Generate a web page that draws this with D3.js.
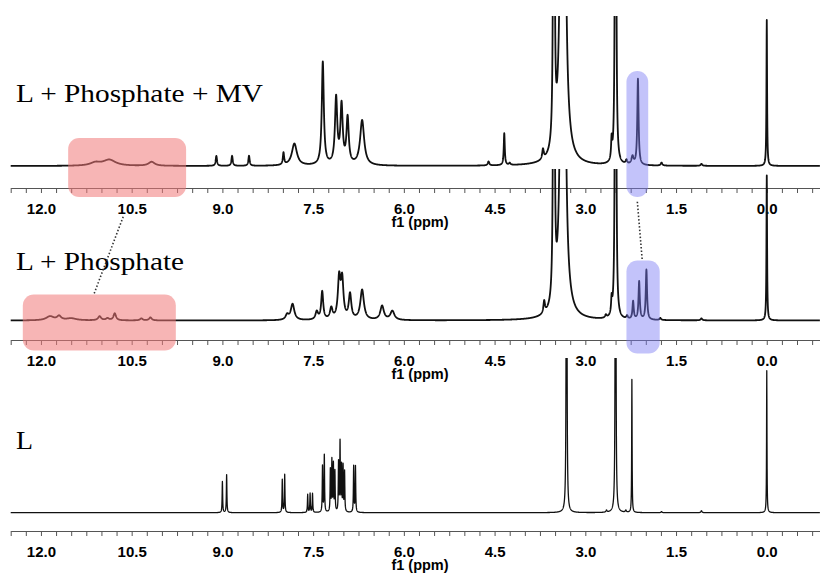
<!DOCTYPE html>
<html>
<head>
<meta charset="utf-8">
<script src="https://cdn.jsdelivr.net/npm/d3@7"></script>
<style>
  body { margin: 0; background: #fff; }
  svg { display: block; }
</style>
</head>
<body>
<div id="chart"></div>
<script>
// spectrum labels (top to bottom)
var spectrumLabels = ["L + Phosphate + MV", "L + Phosphate", "L"];

// peak tables: [ppm, intensity, width (ppm)]
var mvPeaks = [
  [11.10, 3, 0.20], [10.87, 6, 0.25], [10.17, 4, 0.12],
  [9.10, 10, 0.025], [8.84, 10, 0.025], [8.56, 10, 0.025],
  [7.99, 12, 0.025], [7.81, 22, 0.10],
  [7.34, 103, 0.04], [7.12, 66, 0.045], [7.03, 58, 0.045], [6.93, 46, 0.045], [6.69, 45, 0.08],
  [4.60, 4, 0.03], [4.34, 32, 0.02], [4.25, 2, 0.03],
  [3.70, 10, 0.03], [3.52, 1500, 0.012], [3.37, 1300, 0.045],
  [2.565, 20, 0.02], [2.50, 3000, 0.008], [2.32, 4, 0.03],
  [2.22, 8, 0.04], [2.13, 86, 0.025],
  [1.74, 3, 0.03], [1.08, 2, 0.03], [0.0, 146, 0.012]
];

var phosPeaks = [
  [11.85, 4, 0.15], [11.70, 4, 0.08], [11.50, 2, 0.20], [11.03, 4, 0.06], [10.90, 2, 0.06],
  [10.78, 7, 0.05], [10.34, 2, 0.05], [10.19, 3, 0.05],
  [7.93, 5, 0.06], [7.84, 16, 0.07],
  [7.44, 8, 0.05], [7.35, 28, 0.04], [7.20, 11, 0.05], [7.07, 40, 0.05], [7.02, 38, 0.05],
  [6.89, 25, 0.05], [6.69, 30, 0.07], [6.36, 14, 0.07], [6.19, 9, 0.08],
  [3.68, 12, 0.03], [3.52, 1500, 0.012], [3.37, 1200, 0.045],
  [2.66, 3, 0.03], [2.565, 15, 0.02], [2.50, 3000, 0.008], [2.31, 3, 0.03],
  [2.21, 18, 0.025], [2.11, 38, 0.025], [1.99, 50, 0.025],
  [1.76, 2, 0.03], [1.08, 2, 0.03], [0.0, 145, 0.012]
];

var ligandPeaks = [
  [9.00, 31, 0.01], [8.93, 38, 0.01],
  [8.01, 33, 0.01], [7.97, 38, 0.01],
  [7.59, 18, 0.01], [7.55, 19, 0.01], [7.51, 19, 0.01],
  [7.345, 46, 0.01], [7.315, 57, 0.01],
  [7.215, 42, 0.01], [7.19, 51, 0.01], [7.165, 47, 0.01], [7.14, 40, 0.01],
  [7.08, 49, 0.01], [7.055, 69, 0.01], [7.03, 45, 0.01], [7.005, 45, 0.01], [6.98, 40, 0.01],
  [6.83, 46, 0.01], [6.80, 46, 0.01],
  [3.31, 1000, 0.008], [2.65, 2, 0.02], [2.50, 1000, 0.008], [2.33, 2, 0.02],
  [2.23, 133, 0.008], [1.74, 1, 0.02], [1.08, 2, 0.02], [0.0, 142, 0.008]
];

// highlight boxes: [ppm from, ppm to, intensity top, intensity bottom]
var redBoxes = [[11.55, 9.60, 28, -31], [12.30, 9.77, 26, -30]];
var blueBoxes = [[2.32, 1.96, 95, -31], [2.32, 1.77, 60, -33]];

// ppm axis
var ppmDomain = [12.5, -0.88];
var tickStep = 0.25;
var labelStep = 1.5;

var width = 820, height = 573;

var svg = d3.select("#chart")
  .append("svg")
  .attr("width", width)
  .attr("height", height);

var x = d3.scaleLinear().domain(ppmDomain).range([10.7, 820]);

// panel layout
var panels = [
  { peaks: mvPeaks, base: 166, clipTop: 16, axisY: 188, labelY: 101.7, labelW: 247, lw: 1.8 },
  { peaks: phosPeaks, base: 320.5, clipTop: 169, axisY: 340, labelY: 270, labelW: 168, lw: 1.8 },
  { peaks: ligandPeaks, base: 512.7, clipTop: 358, axisY: 531, labelY: 449, labelW: 17, lw: 1.3 }
];

// sum of lorentzian lines from a peak table
function spectrum(peaks) {
  var pts = d3.range(ppmDomain[0], ppmDomain[1], -0.002)
    .concat(peaks.map(function(p) { return p[0]; }));
  pts.sort(function(a, b) { return b - a; });
  return pts.map(function(p) {
    var v = d3.sum(peaks, function(pk) {
      var d = (p - pk[0]) / (pk[2] / 2);
      return pk[1] / (1 + d * d);
    });
    return [p, v];
  });
}

var tickVals = d3.range(ppmDomain[0], ppmDomain[1], -tickStep);

panels.forEach(function(pn, i) {
  var g = svg.append("g").attr("class", "panel" + i);
  var y = d3.scaleLinear().domain([0, 100]).range([pn.base, pn.base - 100]);

  // axis
  var axis = d3.axisBottom(x)
    .tickValues(tickVals)
    .tickSize(5)
    .tickSizeOuter(0)
    .tickFormat(function(d) {
      var r = d / labelStep;
      return Math.abs(r - Math.round(r)) < 1e-6 ? d3.format(".1f")(Math.abs(d) < 1e-9 ? 0 : d) : "";
    });
  var ax = g.append("g")
    .attr("transform", "translate(0," + pn.axisY + ")")
    .call(axis);
  ax.select(".domain").attr("stroke", "#555").attr("stroke-width", 1);
  ax.selectAll(".tick line").attr("stroke", "#555");
  ax.selectAll(".tick text")
    .attr("y", 26)
    .attr("dy", null)
    .attr("fill", "#000")
    .style("font-family", "'Liberation Sans', Arial, sans-serif")
    .style("font-weight", "bold")
    .style("font-size", "15px");

  g.append("text")
    .attr("x", 420)
    .attr("y", pn.axisY + 38.8)
    .attr("text-anchor", "middle")
    .style("font-family", "'Liberation Sans', Arial, sans-serif")
    .style("font-weight", "bold")
    .style("font-size", "14.5px")
    .text("f1 (ppm)");

  // spectrum label
  g.append("text")
    .attr("x", 16)
    .attr("y", pn.labelY)
    .attr("textLength", pn.labelW)
    .attr("lengthAdjust", "spacingAndGlyphs")
    .style("font-family", "'Liberation Serif', 'Times New Roman', serif")
    .style("font-size", "26px")
    .text(spectrumLabels[i]);

  // spectrum line, clipped at panel top
  svg.append("clipPath").attr("id", "clip" + i)
    .append("rect")
    .attr("x", 0).attr("y", pn.clipTop)
    .attr("width", width).attr("height", height - pn.clipTop);

  var line = d3.line()
    .x(function(d) { return x(d[0]); })
    .y(function(d) { return y(d[1]); });

  g.append("path")
    .datum(spectrum(pn.peaks))
    .attr("clip-path", "url(#clip" + i + ")")
    .attr("fill", "none")
    .attr("stroke", "#111")
    .attr("stroke-width", pn.lw)
    .attr("stroke-linejoin", "round")
    .attr("d", line);

  // highlight boxes
  if (i < 2) {
    var rb = redBoxes[i], bb = blueBoxes[i];
    g.append("rect")
      .attr("x", x(rb[0])).attr("y", y(rb[2]))
      .attr("width", x(rb[1]) - x(rb[0])).attr("height", y(rb[3]) - y(rb[2]))
      .attr("rx", 11)
      .attr("fill", "#f07878").attr("fill-opacity", 0.55);
    g.append("rect")
      .attr("x", x(bb[0])).attr("y", y(bb[2]))
      .attr("width", x(bb[1]) - x(bb[0])).attr("height", y(bb[3]) - y(bb[2]))
      .attr("rx", 11)
      .attr("fill", "#7a7af5").attr("fill-opacity", 0.45);
  }
  pn.y = y;
});

// dotted connectors between the highlighted regions
var y1 = panels[0].y, y2 = panels[1].y;
var connectors = [
  [10.64, y1(-50.7), 11.12, y2(27)],
  [2.14, y1(-35.7), 2.06, y2(61)]
];
svg.selectAll(".connector")
  .data(connectors)
  .enter().append("line")
  .attr("class", "connector")
  .attr("x1", function(d) { return x(d[0]); })
  .attr("y1", function(d) { return d[1]; })
  .attr("x2", function(d) { return x(d[2]); })
  .attr("y2", function(d) { return d[3]; })
  .attr("stroke", "#333")
  .attr("stroke-width", 1.6)
  .attr("stroke-dasharray", "1.5,2");
</script>
</body>
</html>
